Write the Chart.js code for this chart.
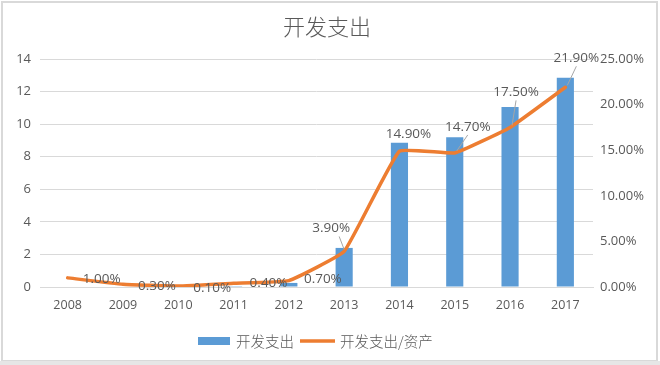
<!DOCTYPE html>
<html><head><meta charset="utf-8">
<script src="https://cdn.jsdelivr.net/npm/chart.js@4/dist/chart.umd.min.js"></script>
<style>
html,body{margin:0;padding:0;background:#fff;}
#wrap{position:relative;width:660px;height:365px;}
</style></head>
<body><div id="wrap"><canvas id="c" width="660" height="365"></canvas></div>
<script>
const title = '开发支出';
const years = ['2008','2009','2010','2011','2012','2013','2014','2015','2016','2017'];
const spending = [0, 0, 0, 0.05, 0.25, 2.4, 8.85, 9.2, 11.05, 12.85];
const ratio = [1.0, 0.3, 0.1, 0.4, 0.7, 3.9, 14.9, 14.7, 17.5, 21.9];
const seriesNames = ['开发支出', '开发支出/资产'];
// label offsets relative to the point (dx, dy) and whether a leader line is drawn
const labelOffsets = [[34,1],[34,2],[34,2],[35,0],[34,-1],[-13,-23],[9,-17],[13,-26],[6,-35],[11,-29]];
const leader = [false,false,false,false,false,true,false,true,true,true];

const TXT = '#595959';
const FONT = '"Open Sans", "Noto Sans CJK SC", sans-serif';

const deco = {
  id: 'deco',
  afterDatasetsDraw(chart) {
    const ctx = chart.ctx;
    const meta = chart.getDatasetMeta(1);
    ctx.save();
    ctx.font = '13.5px ' + FONT;
    ctx.textAlign = 'center';
    ctx.textBaseline = 'middle';
    meta.data.forEach((pt, i) => {
      const lx = pt.x + labelOffsets[i][0];
      const ly = pt.y + labelOffsets[i][1];
      if (leader[i]) {
        ctx.strokeStyle = '#a6a6a6';
        ctx.lineWidth = 1;
        ctx.beginPath();
        ctx.moveTo(lx - (labelOffsets[i][0] > 0 ? 0 : -8), ly + 8);
        ctx.lineTo(pt.x + (labelOffsets[i][0] > 0 ? 2 : 0), pt.y - 2);
        ctx.stroke();
      }
      ctx.fillStyle = TXT;
      ctx.fillText(ratio[i].toFixed(2) + '%', lx, ly);
    });
    ctx.restore();
  },
  afterDraw(chart) {
    const ctx = chart.ctx;
    ctx.save();
    ctx.fillStyle = TXT;
    ctx.font = '300 22px "Noto Sans CJK SC", sans-serif';
    ctx.textAlign = 'center';
    ctx.textBaseline = 'middle';
    ctx.fillText(title, 327, 27);
    ctx.font = '300 14.5px "Noto Sans CJK SC", sans-serif';
    ctx.textAlign = 'left';
    ctx.fillStyle = '#5B9BD5';
    ctx.fillRect(198, 337, 32, 8);
    ctx.fillStyle = TXT;
    ctx.fillText(seriesNames[0], 236, 341);
    ctx.strokeStyle = '#ED7D31';
    ctx.lineWidth = 3.5;
    ctx.beginPath();
    ctx.moveTo(300, 341); ctx.lineTo(335, 341);
    ctx.stroke();
    ctx.fillText(seriesNames[1], 340, 341);
    ctx.strokeStyle = '#d9d9d9';
    ctx.lineWidth = 2;
    ctx.strokeRect(2, 2, 655, 359);
    ctx.fillStyle = '#e6e6e6';
    ctx.fillRect(0, 361, 660, 4);
    ctx.restore();
  }
};

new Chart(document.getElementById('c'), {
  type: 'bar',
  data: {
    labels: years,
    datasets: [
      { type: 'bar', label: seriesNames[0], data: spending, yAxisID: 'y',
        backgroundColor: '#5B9BD5', barPercentage: 0.31, categoryPercentage: 1, order: 2 },
      { type: 'line', label: seriesNames[1], data: ratio, yAxisID: 'y1',
        borderColor: '#ED7D31', borderWidth: 3.5, pointRadius: 0, tension: 0.1,
        fill: false, order: 1, borderCapStyle: 'round', borderJoinStyle: 'round' }
    ]
  },
  options: {
    responsive: false,
    animation: false,
    layout: { padding: { top: 59, left: 0, right: 0, bottom: 0 } },
    plugins: { legend: { display: false }, title: { display: false }, tooltip: { enabled: false } },
    scales: {
      x: {
        grid: { display: false, drawTicks: false },
        border: { display: true, color: '#d9d9d9' },
        ticks: { color: TXT, font: { family: FONT, size: 12.5 }, padding: 11, maxRotation: 0 },
        afterFit(s) { s.height = 78; }
      },
      y: {
        position: 'left', min: 0, max: 14,
        grid: { color: '#d9d9d9', drawTicks: false },
        border: { display: false },
        ticks: { stepSize: 2, color: TXT, font: { family: FONT, size: 13 }, padding: 9 },
        afterFit(s) { s.width = 40; }
      },
      y1: {
        position: 'right', min: 0, max: 25,
        grid: { display: false, drawTicks: false },
        border: { display: false },
        ticks: { stepSize: 5, color: TXT, font: { family: FONT, size: 13 }, padding: 7,
          callback: v => v.toFixed(2) + '%' },
        afterFit(s) { s.width = 67; }
      }
    }
  },
  plugins: [deco]
});
</script>
</body></html>
